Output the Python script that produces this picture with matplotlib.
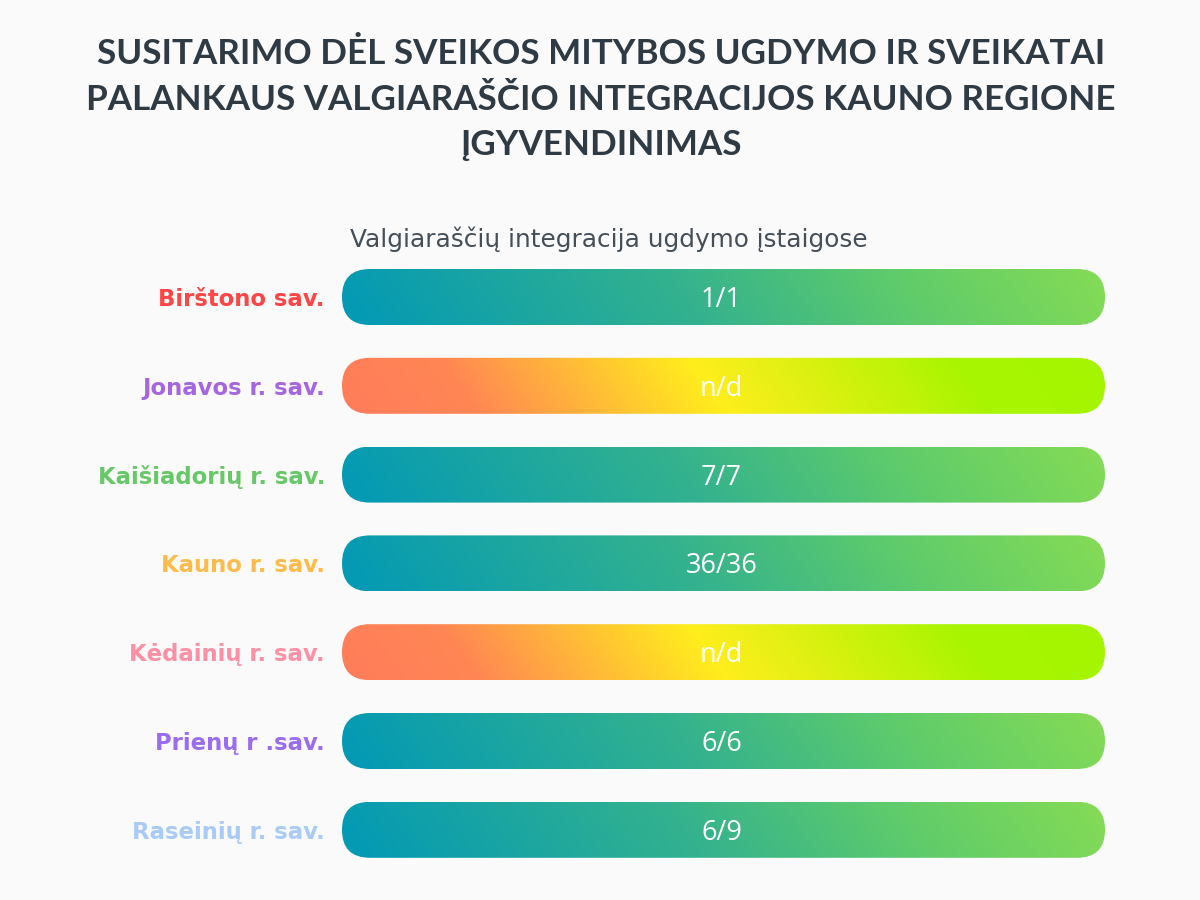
import numpy as np
import matplotlib
matplotlib.use("Agg")
import matplotlib.pyplot as plt
from matplotlib.colors import LinearSegmentedColormap
from matplotlib.patches import FancyBboxPatch

# Chart data
title_lines = [
    "SUSITARIMO DĖL SVEIKOS MITYBOS UGDYMO IR SVEIKATAI",
    "PALANKAUS VALGIARAŠČIO INTEGRACIJOS KAUNO REGIONE",
    "ĮGYVENDINIMAS",
]
subtitle = "Valgiaraščių integracija ugdymo įstaigose"
municipalities = [
    "Birštono sav.",
    "Jonavos r. sav.",
    "Kaišiadorių r. sav.",
    "Kauno r. sav.",
    "Kėdainių r. sav.",
    "Prienų r .sav.",
    "Raseinių r. sav.",
]
integrated = [1, None, 7, 36, None, 6, 6]
total = [1, None, 7, 36, None, 6, 9]
label_colors = ["#ff4545", "#a566e0", "#67c868", "#ffbb4a", "#ff8fa5", "#9a6cf0", "#a8cbf8"]

# gradients for bars (with data / no data)
teal_cmap = LinearSegmentedColormap.from_list(
    "teal", [(0, "#049ab4"), (0.45, "#34b28e"), (0.75, "#60cc6a"), (1, "#82da57")])
warm_cmap = LinearSegmentedColormap.from_list(
    "warm", [(0, "#ff7e5a"), (0.15, "#ff8654"), (0.48, "#ffee1c"), (0.83, "#a8f500"), (1, "#a6f500")])

bg = "#fafafa"
fig = plt.figure(figsize=(12, 9), dpi=100, facecolor=bg)
ax = fig.add_axes([0, 0, 1, 1])
ax.set_xlim(0, 1200)
ax.set_ylim(900, 0)
ax.axis("off")

for i, line in enumerate(title_lines):
    ax.text(601, 64 + i * 45.5, line, ha="center", va="baseline", fontsize=25.2,
            fontweight="bold", color="#2e3a44", family=["Lato", "DejaVu Sans"])

ax.text(609, 247, subtitle, ha="center", va="baseline", fontsize=17.8,
        color="#444f59", family=["DejaVu Sans"])

x0, x1 = 342, 1105
bar_h = 56
w = x1 - x0
yy, xx = np.mgrid[0:bar_h, 0:w]

for i, name in enumerate(municipalities):
    yc = 297 + i * 88.8
    y0 = yc - bar_h / 2
    has_data = total[i] is not None
    cmap = teal_cmap if has_data else warm_cmap
    # slightly diagonal linear gradient (top runs ahead of bottom)
    t = (xx - 0.7 * (yy - bar_h / 2)) / w
    t = np.clip(t, 0, 1)
    img = cmap(t)
    pill = FancyBboxPatch((x0, y0), w, bar_h,
                          boxstyle="round,pad=0,rounding_size=28",
                          facecolor="none", edgecolor="none")
    ax.add_patch(pill)
    im = ax.imshow(img, extent=(x0, x1, y0 + bar_h, y0), origin="upper",
                   interpolation="bilinear", zorder=2)
    im.set_clip_path(pill)

    value_text = f"{integrated[i]}/{total[i]}" if has_data else "n/d"
    ax.text((x0 + x1) / 2 - 2, yc + 10, value_text, ha="center", va="baseline",
            fontsize=19.5, color="white", family=["Open Sans", "DejaVu Sans"], zorder=3)

    ax.text(325, yc + 9, name, ha="right", va="baseline", fontsize=16.4,
            fontweight="bold", color=label_colors[i], family=["DejaVu Sans"])

ax.set_aspect("auto")
fig.savefig("out.png", dpi=100, facecolor=bg)
